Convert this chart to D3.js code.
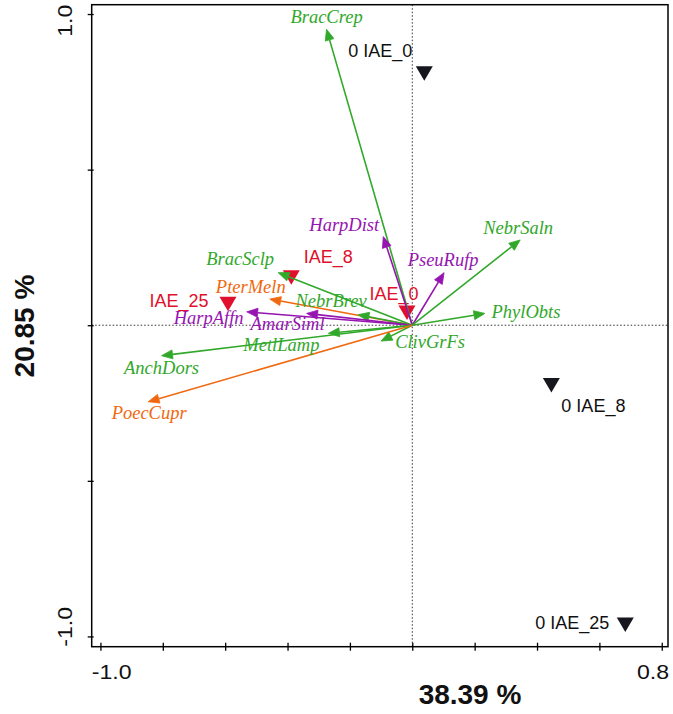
<!DOCTYPE html>
<html>
<head>
<meta charset="utf-8">
<script src="https://cdn.jsdelivr.net/npm/d3@7"></script>
<style>
  html, body { margin: 0; padding: 0; background: #fff; }
  svg { display: block; }
</style>
</head>
<body>
<svg id="chart" width="673" height="714"></svg>
<script>
// Species scores (arrow tips) on the first two ordination axes
const speciesNames = ["BracCrep", "HarpDist", "PseuRufp", "NebrSaln", "PhylObts", "ClivGrFs", "BracSclp",
                      "PterMeln", "NebrBrev", "HarpAffn", "AmarSiml", "MetlLamp", "AnchDors", "PoecCupr"];
const speciesAxis1 = [-0.275, -0.093, 0.102, 0.346, 0.233, -0.100, -0.430,
                      -0.457, -0.174, -0.531, -0.339, -0.269, -0.804, -0.847];
const speciesAxis2 = [0.951, 0.285, 0.169, 0.274, 0.038, -0.051, 0.169,
                      0.084, 0.034, 0.043, 0.038, -0.026, -0.098, -0.246];
const speciesGroup = ["g", "p", "p", "g", "g", "g", "g",
                      "o", "g", "p", "p", "g", "g", "o"];

// Treatment centroids
const centroidNames = ["IAE_0", "IAE_8", "IAE_25"];
const centroidAxis1 = [-0.017, -0.388, -0.591];
const centroidAxis2 = [0.041, 0.154, 0.069];

// Reference level points
const refNames = ["0 IAE_0", "0 IAE_8", "0 IAE_25"];
const refAxis1 = [0.0385, 0.446, 0.683];
const refAxis2 = [0.810, -0.192, -0.962];

// Axis titles and tick values
const axis1Title = "38.39 %";
const axis2Title = "20.85 %";
const xTicks = [-1.0, -0.8, -0.6, -0.4, -0.2, 0.0, 0.2, 0.4, 0.6, 0.8];
const yTicks = [-1.0, -0.5, 0.0, 0.5, 1.0];
const xTickLabels = ["-1.0", "0.8"];
const yTickLabels = ["-1.0", "1.0"];

// ---- layout ----
const groupColor = { g: "#31a82a", p: "#9614b0", o: "#f0680f" };
const centroidColor = "#e0102c";
const refColor = "#16161f";

// label placement relative to the mark (pixels): dx, dy, anchor
const speciesLabelPos = {
  BracCrep: [0, -6], HarpDist: [-39, -6], PseuRufp: [-1, -7], NebrSaln: [-2, -6],
  PhylObts: [41, 5], ClivGrFs: [49, 7], BracSclp: [-38, -8], PterMeln: [-19, -6],
  NebrBrev: [-27, -8], HarpAffn: [-38, 12], AmarSiml: [-19, 17], MetlLamp: [-47, 18],
  AnchDors: [0, 18], PoecCupr: [1, 17]
};
const centroidLabelPos = { IAE_0: [-13, -12, "middle"], IAE_8: [37, -14, "middle"], IAE_25: [-49, 3, "middle"] };
const refLabelPos = { "0 IAE_0": [-12, -16, "end"], "0 IAE_8": [10, 27, "start"], "0 IAE_25": [-16, 4, "end"] };

const xlim = [-1.028, 0.82];
const ylim = [-1.033, 1.03];
const plot = { left: 91.7, right: 668, top: 4.7, bottom: 646.7 };

const x = d3.scaleLinear().domain(xlim).range([plot.left, plot.right]);
const y = d3.scaleLinear().domain(ylim).range([plot.bottom, plot.top]);

const svg = d3.select("#chart");
const sans = "'Liberation Sans', Arial, Helvetica, sans-serif";
const serif = "'Liberation Serif', 'Times New Roman', Times, serif";

// zero lines
svg.append("line")
  .attr("x1", x(0)).attr("x2", x(0)).attr("y1", plot.top).attr("y2", plot.bottom)
  .attr("stroke", "#333").attr("stroke-width", 1).attr("stroke-dasharray", "1.5,2");
svg.append("line")
  .attr("x1", plot.left).attr("x2", plot.right).attr("y1", y(0)).attr("y2", y(0))
  .attr("stroke", "#333").attr("stroke-width", 1).attr("stroke-dasharray", "1.5,2");

// reference points (inverted triangles)
const tri = "M-8.5,-7L8.5,-7L0,7.5Z";
refNames.forEach((n, i) => {
  svg.append("path").attr("d", tri)
    .attr("transform", `translate(${x(refAxis1[i])},${y(refAxis2[i])})`)
    .attr("fill", refColor);
  const p = refLabelPos[n];
  svg.append("text").text(n)
    .attr("x", x(refAxis1[i]) + p[0]).attr("y", y(refAxis2[i]) + p[1])
    .attr("text-anchor", p[2])
    .attr("font-family", sans).attr("font-size", 18).attr("fill", "#111");
});

// centroid points
centroidNames.forEach((n, i) => {
  svg.append("path").attr("d", tri)
    .attr("transform", `translate(${x(centroidAxis1[i])},${y(centroidAxis2[i])})`)
    .attr("fill", centroidColor);
  const p = centroidLabelPos[n];
  svg.append("text").text(n)
    .attr("x", x(centroidAxis1[i]) + p[0]).attr("y", y(centroidAxis2[i]) + p[1])
    .attr("text-anchor", p[2])
    .attr("font-family", sans).attr("font-size", 18).attr("fill", centroidColor);
});

// species arrows from the origin
const headLen = 11, headHalf = 4.5;
speciesNames.forEach((n, i) => {
  const c = groupColor[speciesGroup[i]];
  const x0 = x(0), y0 = y(0);
  const x1 = x(speciesAxis1[i]), y1 = y(speciesAxis2[i]);
  const ang = Math.atan2(y1 - y0, x1 - x0);
  const bx = x1 - headLen * Math.cos(ang), by = y1 - headLen * Math.sin(ang);
  svg.append("line")
    .attr("x1", x0).attr("y1", y0).attr("x2", bx).attr("y2", by)
    .attr("stroke", c).attr("stroke-width", 1.6);
  const px = -Math.sin(ang) * headHalf, py = Math.cos(ang) * headHalf;
  svg.append("path")
    .attr("d", `M${x1},${y1}L${bx + px},${by + py}L${bx - px},${by - py}Z`)
    .attr("fill", c).attr("stroke", c).attr("stroke-width", 0.8);
});
speciesNames.forEach((n, i) => {
  const c = groupColor[speciesGroup[i]];
  const p = speciesLabelPos[n];
  svg.append("text").text(n)
    .attr("x", x(speciesAxis1[i]) + p[0]).attr("y", y(speciesAxis2[i]) + p[1])
    .attr("text-anchor", "middle")
    .attr("font-family", serif).attr("font-style", "italic")
    .attr("font-size", 18.5).attr("fill", c);
});

// frame
svg.append("rect")
  .attr("x", plot.left).attr("y", plot.top)
  .attr("width", plot.right - plot.left).attr("height", plot.bottom - plot.top)
  .attr("fill", "none").attr("stroke", "#000").attr("stroke-width", 1.5);

// bottom axis ticks
const xAxis = d3.axisBottom(x).tickValues(xTicks).tickSize(0).tickFormat("");
const gx = svg.append("g").attr("transform", `translate(0,${plot.bottom})`).call(xAxis);
gx.select(".domain").remove();
gx.selectAll(".tick").append("line")
  .attr("y1", -4).attr("y2", 4).attr("stroke", "#000").attr("stroke-width", 1.3);

// left axis ticks
const yAxis = d3.axisLeft(y).tickValues(yTicks).tickSize(0).tickFormat("");
const gy = svg.append("g").attr("transform", `translate(${plot.left},0)`).call(yAxis);
gy.select(".domain").remove();
gy.selectAll(".tick").append("line")
  .attr("x1", -4).attr("x2", 2).attr("stroke", "#000").attr("stroke-width", 1.3);

// tick labels at the axis ends
function tickLabel(txt, tx, ty, rot, anchor) {
  svg.append("text").text(txt)
    .attr("transform", `translate(${tx},${ty}) rotate(${rot}) scale(1.1,1)`)
    .attr("text-anchor", anchor)
    .attr("font-family", sans).attr("font-size", 21).attr("fill", "#111");
}
tickLabel(xTickLabels[0], plot.left, 679, 0, "start");
tickLabel(xTickLabels[1], plot.right + 1, 679, 0, "end");
tickLabel(yTickLabels[1], 72, plot.top, -90, "end");
tickLabel(yTickLabels[0], 72, plot.bottom, -90, "start");

// axis titles
svg.append("text").text(axis1Title)
  .attr("x", 470).attr("y", 704).attr("text-anchor", "middle")
  .attr("font-family", sans).attr("font-weight", "bold").attr("font-size", 28).attr("fill", "#111");
svg.append("text").text(axis2Title)
  .attr("transform", `translate(34,326) rotate(-90)`).attr("text-anchor", "middle")
  .attr("font-family", sans).attr("font-weight", "bold").attr("font-size", 28).attr("fill", "#111");
</script>
</body>
</html>
